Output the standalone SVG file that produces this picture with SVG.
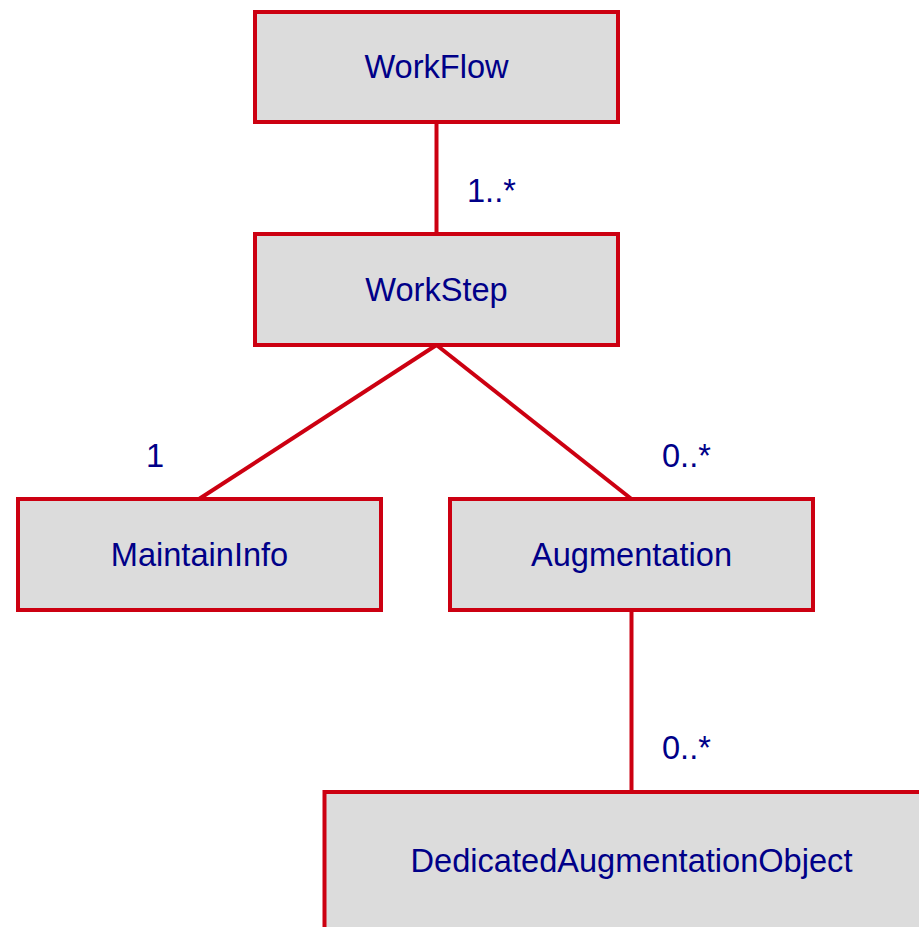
<svg xmlns="http://www.w3.org/2000/svg" width="919" height="927" viewBox="0 0 919 927">
<style>
.box{fill:#dcdcdc;stroke:#cc0011;stroke-width:4}
.edge{stroke:#cc0011;stroke-width:4;fill:none}
text{font-family:"Liberation Sans",Arial,sans-serif;font-size:32.6px;fill:#000088}
.c{text-anchor:middle}
</style>
<rect width="919" height="927" fill="#ffffff"/>
<g id="connectors">
<line class="edge" x1="436.5" y1="122" x2="436.5" y2="234"/>
<line class="edge" x1="436.5" y1="345" x2="199" y2="499"/>
<line class="edge" x1="436.5" y1="345" x2="631.5" y2="499"/>
<line class="edge" x1="631.5" y1="610" x2="631.5" y2="792"/>
<text x="467" y="202">1..*</text>
<text x="146" y="467">1</text>
<text x="662" y="467">0..*</text>
<text x="662" y="759">0..*</text>
</g>
<g id="WorkFlow">
<rect class="box" x="255" y="12" width="363" height="110"/>
<text class="c" x="436.5" y="78">WorkFlow</text>
</g>
<g id="WorkStep">
<rect class="box" x="255" y="234" width="363" height="111"/>
<text class="c" x="436.5" y="301">WorkStep</text>
</g>
<g id="MaintainInfo">
<rect class="box" x="18" y="499" width="363" height="111"/>
<text class="c" x="199.5" y="566">MaintainInfo</text>
</g>
<g id="Augmentation">
<rect class="box" x="450" y="499" width="363" height="111"/>
<text class="c" x="631.5" y="566">Augmentation</text>
</g>
<g id="DedicatedAugmentationObject">
<rect class="box" x="324.5" y="792" width="700" height="200"/>
<text class="c" x="631.5" y="872">DedicatedAugmentationObject</text>
</g>
</svg>
